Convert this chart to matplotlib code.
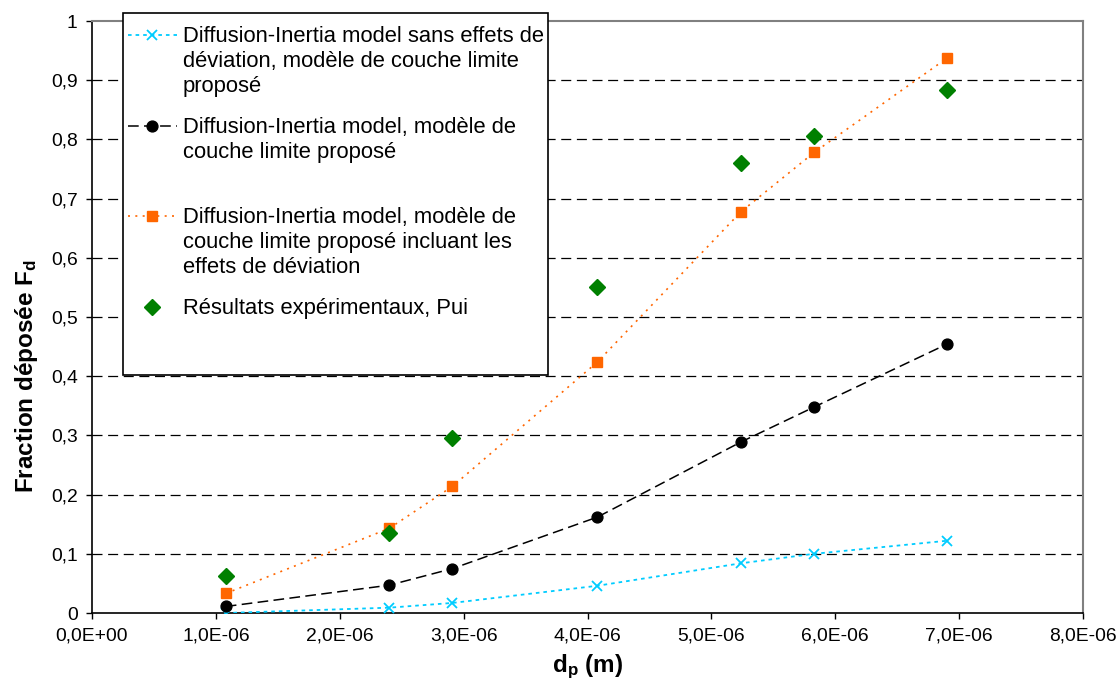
import matplotlib
matplotlib.use('Agg')
import matplotlib.pyplot as plt
from matplotlib.lines import Line2D
from matplotlib.patches import Rectangle
from matplotlib.ticker import FuncFormatter, MultipleLocator

plt.rcParams['font.family'] = ['Liberation Sans', 'DejaVu Sans']
plt.rcParams['mathtext.fontset'] = 'custom'
plt.rcParams['mathtext.rm'] = 'Liberation Sans'
plt.rcParams['mathtext.bf'] = 'Liberation Sans:bold'

# particle diameters (m)
dp = [1.08e-6, 2.40e-6, 2.91e-6, 4.08e-6, 5.24e-6, 5.83e-6, 6.90e-6]

fd_sans_deviation = [0.000, 0.009, 0.017, 0.046, 0.084, 0.100, 0.122]
fd_modele = [0.011, 0.047, 0.075, 0.162, 0.289, 0.348, 0.454]
fd_deviation = [0.033, 0.143, 0.214, 0.424, 0.678, 0.778, 0.937]
fd_pui = [0.063, 0.135, 0.296, 0.551, 0.760, 0.806, 0.883]

labels = [
    "Diffusion-Inertia model sans effets de\ndéviation, modèle de couche limite\nproposé",
    "Diffusion-Inertia model, modèle de\ncouche limite proposé",
    "Diffusion-Inertia model, modèle de\ncouche limite proposé incluant les\neffets de déviation",
    "Résultats expérimentaux, Pui",
]

styles = [
    dict(color='#00CCFF', ls=(0, (2, 2.2)), lw=1.3, marker='x', ms=7.2, mew=1.3),
    dict(color='black', ls=(0, (7, 3.5)), lw=1.1, marker='o', ms=7.8),
    dict(color='#FF6600', ls=(0, (1.2, 3.2)), lw=1.2, marker='s', ms=7.6),
    dict(color='#008000', ls='none', marker='D', ms=8.6),
]
series = [fd_sans_deviation, fd_modele, fd_deviation, fd_pui]

W, H = 1120, 687
fig = plt.figure(figsize=(W / 100, H / 100), dpi=100)
ax = fig.add_axes([92 / W, 1 - 613 / H, (1083 - 92) / W, (613 - 21) / H])

for yv in [0.1, 0.2, 0.3, 0.4, 0.5, 0.6, 0.7, 0.8, 0.9]:
    ax.axhline(yv, color='black', lw=0.9, ls=(0, (8, 4.5)), zorder=1)

for ys, st in zip(series, styles):
    ax.plot(dp, ys, zorder=3, **st)

ax.set_xlim(0, 8e-6)
ax.set_ylim(0, 1)
ax.xaxis.set_major_locator(MultipleLocator(1e-6))
ax.yaxis.set_major_locator(MultipleLocator(0.1))
ax.xaxis.set_major_formatter(FuncFormatter(lambda v, p: f'{v:.1E}'.replace('.', ',')))
ax.yaxis.set_major_formatter(FuncFormatter(lambda v, p: f'{round(v, 1):g}'.replace('.', ',')))
ax.tick_params(axis='both', labelsize=13.9, length=4.3, width=1, direction='out', pad=6)

for s in ['top', 'right']:
    ax.spines[s].set_color('#808080')
    ax.spines[s].set_linewidth(1.5)
for s in ['left', 'bottom']:
    ax.spines[s].set_linewidth(1.2)

ax.set_ylabel(r'Fraction déposée $\mathbf{F_d}$', fontsize=17.5, fontweight='bold', labelpad=8)
ax.yaxis.label.set_y(0.40)
ax.set_xlabel(r'$\mathbf{d_p}$ (m)', fontsize=17.5, fontweight='bold', labelpad=6)

# legend box drawn over the plot (Excel style)
fig.add_artist(Rectangle((123 / W, 1 - 375 / H), (548 - 123) / W, (375 - 13) / H,
                         transform=fig.transFigure, facecolor='white',
                         edgecolor='black', lw=1.2, zorder=5))
baselines = [41.7, 133.3, 223.3, 314]
marker_y = [34.7, 126, 216, 306.7]
line_h = 25
for lab, st, yb, ym in zip(labels, styles, baselines, marker_y):
    line_st = {k: v for k, v in st.items() if k not in ('marker', 'ms', 'mew')}
    if st['ls'] != 'none':
        fig.add_artist(Line2D([128 / W, 177 / W], [1 - ym / H, 1 - ym / H],
                              transform=fig.transFigure, zorder=6, **line_st))
    fig.add_artist(Line2D([152 / W], [1 - ym / H], transform=fig.transFigure, zorder=7,
                          color=st['color'], ls='none', marker=st['marker'],
                          ms=st['ms'], mew=st.get('mew', 1)))
    for i, txt in enumerate(lab.split('\n')):
        fig.text(183 / W, 1 - (yb + i * line_h) / H, txt, fontsize=15.8,
                 va='baseline', ha='left', zorder=8)

fig.savefig('out.png', dpi=100)
